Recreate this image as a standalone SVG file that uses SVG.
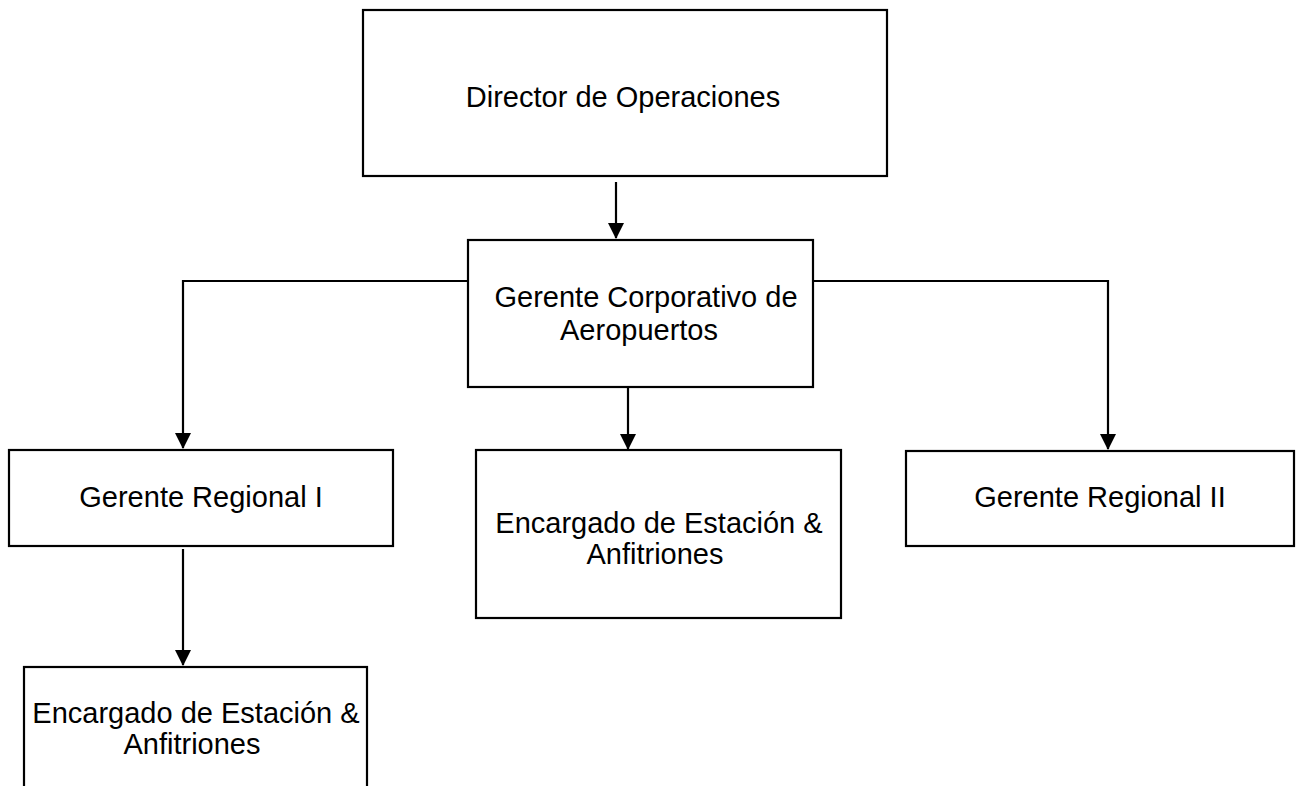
<svg xmlns="http://www.w3.org/2000/svg" width="1300" height="786" viewBox="0 0 1300 786">
<style>
.box{fill:#fff;stroke:#000;stroke-width:2.2}
.lbl{font-family:"Liberation Sans",Arial,Helvetica,sans-serif;font-size:29px;fill:#000;text-anchor:middle}
.conn{fill:none;stroke:#000;stroke-width:2.2}
</style>
<defs>
<marker id="ah" markerWidth="16" markerHeight="16" refX="15" refY="8" orient="auto" markerUnits="userSpaceOnUse">
<path d="M0,0 L16,8 L0,16 z" fill="#000"/>
</marker>
</defs>
<rect width="1300" height="786" fill="#fff"/>
<g id="connectors">
<path class="conn" d="M616 182 V238" marker-end="url(#ah)"/>
<path class="conn" d="M468 281 H183 V448" marker-end="url(#ah)"/>
<path class="conn" d="M813 281 H1108 V449" marker-end="url(#ah)"/>
<path class="conn" d="M628 388 V449" marker-end="url(#ah)"/>
<path class="conn" d="M183 549 V665" marker-end="url(#ah)"/>
</g>
<g id="director">
<rect class="box" x="363" y="10" width="524" height="166"/>
<text class="lbl" x="623" y="107">Director de Operaciones</text>
</g>
<g id="gerente-corporativo">
<rect class="box" x="468" y="240" width="345" height="147"/>
<text class="lbl" x="646" y="307">Gerente Corporativo de</text>
<text class="lbl" x="639" y="340">Aeropuertos</text>
</g>
<g id="gerente-regional-1">
<rect class="box" x="9" y="450" width="384" height="96"/>
<text class="lbl" x="201" y="507">Gerente Regional I</text>
</g>
<g id="encargado-1">
<rect class="box" x="476" y="450" width="365" height="168"/>
<text class="lbl" x="659" y="533">Encargado de Estación &amp;</text>
<text class="lbl" x="655" y="564">Anfitriones</text>
</g>
<g id="gerente-regional-2">
<rect class="box" x="906" y="451" width="388" height="95"/>
<text class="lbl" x="1100" y="507">Gerente Regional II</text>
</g>
<g id="encargado-2">
<rect class="box" x="24" y="667" width="343" height="140"/>
<text class="lbl" x="196" y="723">Encargado de Estación &amp;</text>
<text class="lbl" x="192" y="754">Anfitriones</text>
</g>
</svg>
